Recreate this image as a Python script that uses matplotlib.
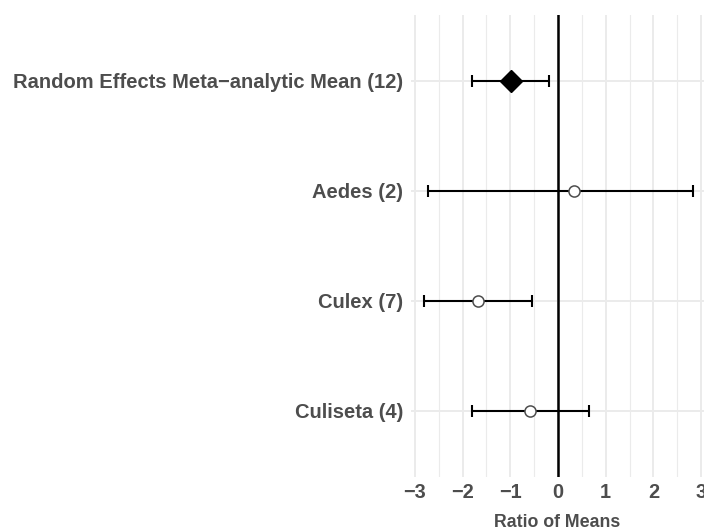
import matplotlib
matplotlib.use("Agg")
import matplotlib.pyplot as plt
from matplotlib.ticker import MultipleLocator

plt.rcParams['font.family'] = ['Liberation Sans', 'DejaVu Sans']

# dados (de baixo para cima)
rotulos = ["Culiseta (4)", "Culex (7)", "Aedes (2)",
           "Random Effects Meta\u2212analytic Mean (12)"]
medias = [-0.59, -1.67, 0.33, -0.99]
inferior = [-1.81, -2.80, -2.72, -1.80]
superior = [0.64, -0.54, 2.82, -0.19]
x_ticks = [-3, -2, -1, 0, 1, 2, 3]

cinza = '#4d4d4d'
grade = '#ebebeb'

fig = plt.figure(figsize=(7.04, 5.31), dpi=100)
ax = fig.add_axes([411 / 704, 1 - 477 / 531, (704 - 411) / 704, (477 - 15) / 531])

pos = list(range(1, len(rotulos) + 1))

ax.axvline(0, color='black', lw=1.8, zorder=2)

for i, y in enumerate(pos):
    ax.errorbar(medias[i], y,
                xerr=[[medias[i] - inferior[i]], [superior[i] - medias[i]]],
                fmt='none', ecolor='black', elinewidth=1.5, capsize=4.2,
                capthick=1.5, zorder=3)
    if i == len(rotulos) - 1:
        ax.plot(medias[i], y, marker='D', ms=11, color='black', zorder=4)
    else:
        ax.plot(medias[i], y, marker='o', ms=8, mfc='white', mec=cinza,
                mew=1.1, zorder=4)

ax.set_xlim(-3.08, 3.06)
ax.set_ylim(0.4, 4.6)
ax.set_xticks(x_ticks)
ax.set_xticklabels([str(t).replace('-', '\u2212') for t in x_ticks])
ax.xaxis.set_minor_locator(MultipleLocator(0.5))
ax.set_yticks(pos)
ax.set_yticklabels(rotulos)

ax.grid(True, which='major', color=grade, lw=1.4, zorder=0)
ax.grid(True, which='minor', axis='x', color=grade, lw=0.8, zorder=0)
ax.set_axisbelow(True)

for s in ax.spines.values():
    s.set_visible(False)
ax.tick_params(which='both', length=0)
ax.tick_params(axis='y', labelsize=14.5, labelcolor=cinza, pad=5.5)
ax.tick_params(axis='x', labelsize=14.4, labelcolor=cinza, pad=4)
for lab in ax.get_xticklabels() + ax.get_yticklabels():
    lab.set_fontweight('bold')

ax.set_xlabel('Ratio of Means', fontsize=12.8, fontweight='bold',
              color=cinza, labelpad=9)

fig.savefig('out.png', dpi=100)
